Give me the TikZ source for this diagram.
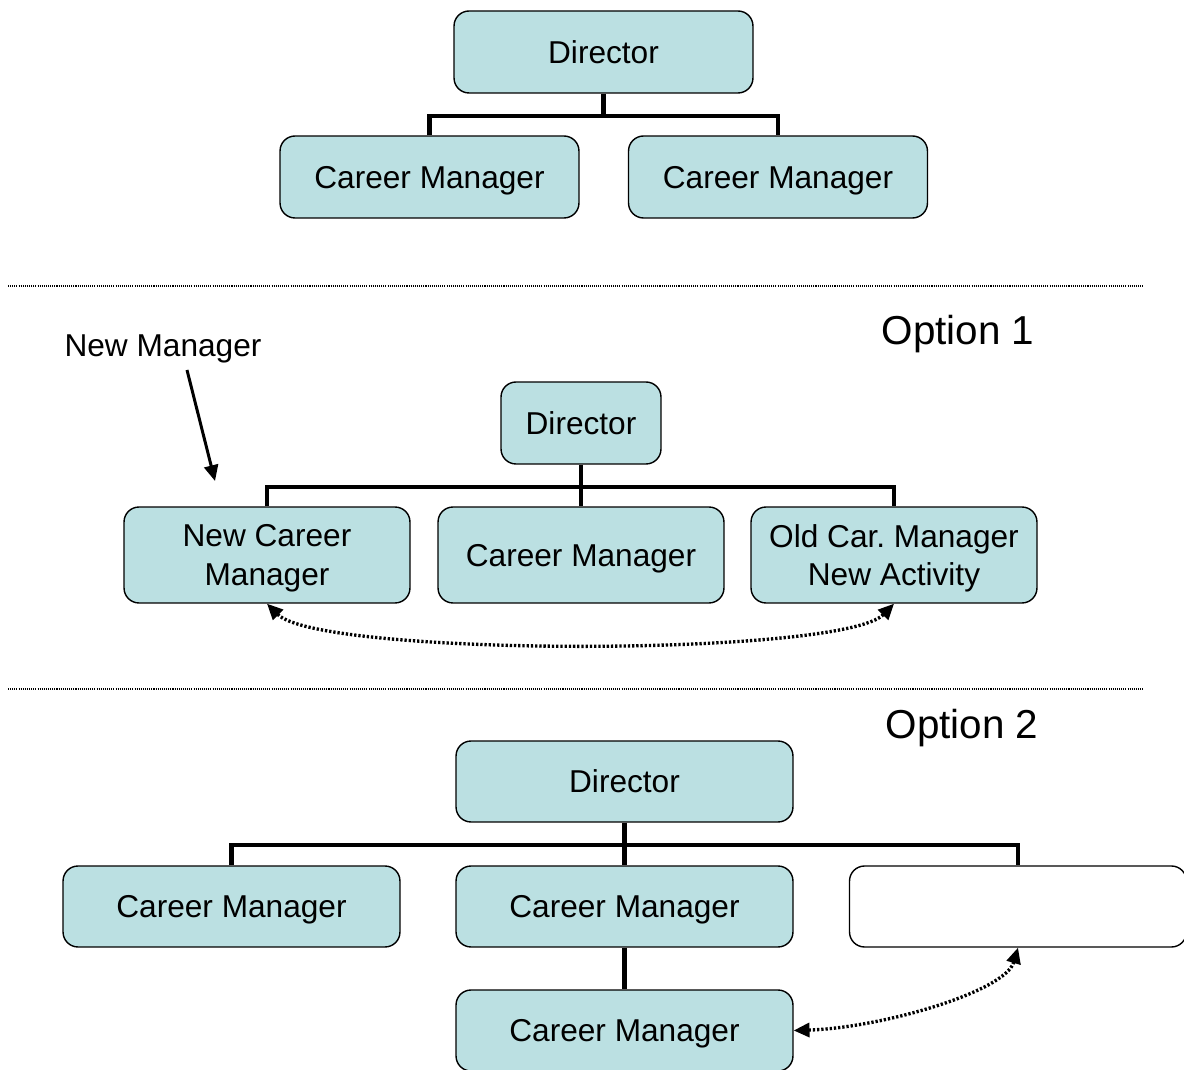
\documentclass[tikz,border=0pt]{standalone}
\usepackage{fontspec}
\setmainfont{Liberation Sans}
\usetikzlibrary{arrows.meta}
\definecolor{boxfill}{RGB}{187,224,226}

\begin{document}
\begin{tikzpicture}[x=0.02cm, y=-0.02cm,
    box/.style = {draw, line width=0.8pt, rounded corners=0.3cm, fill=boxfill,
                  align=center, inner sep=0pt, text depth=0pt,
                  font=\fontsize{18}{22}\selectfont},
    small/.style = {minimum width=5.98cm, minimum height=1.64cm},
    tall/.style = {minimum width=5.72cm, minimum height=1.92cm},
    wide/.style = {minimum width=6.74cm, minimum height=1.62cm},
    caption/.style = {text depth=0pt, font=\fontsize{#1}{#1}\selectfont},
    link/.style = {line width=2.7pt},
    sep/.style = {line width=0.8pt, dash pattern=on 0.6pt off 0.6pt},
    swap/.style = {line width=1.9pt, dash pattern=on 1.3pt off 1.1pt,
                   {Triangle[length=9pt,width=8pt]}-{Triangle[length=9pt,width=8pt]}},
    pointer/.style = {line width=1.7pt, -{Triangle[length=9pt,width=8pt]}}]
    \useasboundingbox (0,0) rectangle (1184,1070);

    % current structure
    \node[box, small] (dir0) at (603.5,52) {Director};
    \node[box, small] (cm01) at (429.5,177) {Career Manager};
    \node[box, small] (cm02) at (778,177) {Career Manager};
    \coordinate (bus0) at (603.5,116);
    \draw[link] (dir0.south) -- (bus0);
    \draw[link] (cm01.north) |- (bus0) -| (cm02.north);

    \draw[sep] (8,286) -- (1143,286);

    % option 1
    \node[caption=23] (opt1) at (958,330) {Option 1};
    \node[caption=18] (nm) at (163,346) {New Manager};
    \node[box, small, minimum width=3.2cm] (dir1) at (581,423) {Director};
    \node[box, tall] (new1) at (267,555) {New Career\\Manager};
    \node[box, tall] (cm1) at (581,555) {Career Manager};
    \node[box, tall] (old1) at (894,555) {Old Car.\ Manager\\New Activity};
    \coordinate (bus1) at (581,487);
    \draw[link] (dir1.south) -- (bus1);
    \draw[link] (new1.north) |- (bus1) -| (old1.north);
    \draw[link] (bus1) -- (cm1.north);
    \coordinate (nmtail) at (187,370);
    \coordinate (nmtip) at (215,481);
    \draw[pointer] (nmtail) -- (nmtip);
    \draw[swap] (new1.south) .. controls (320,657) and (842,657) .. (old1.south);

    \draw[sep] (8,689) -- (1143,689);

    % option 2
    \node[caption=23] (opt2) at (962,724) {Option 2};
    \node[box, wide] (dir2) at (624.5,781.5) {Director};
    \node[box, wide] (left2) at (231.5,906.5) {Career Manager};
    \node[box, wide] (mid2) at (624.5,906.5) {Career Manager};
    \node[box, wide, fill=white] (empty2) at (1018,906.5) {};
    \node[box, wide] (low2) at (624.5,1030.5) {Career Manager};
    \coordinate (bus2) at (624.5,845);
    \draw[link] (dir2.south) -- (mid2.north);
    \draw[link] (left2.north) |- (bus2) -| (empty2.north);
    \draw[link] (mid2.south) -- (low2.north);
    \draw[swap] (low2.east) .. controls (880,1028) and (1005,992) .. (empty2.south);
\end{tikzpicture}
\end{document}
